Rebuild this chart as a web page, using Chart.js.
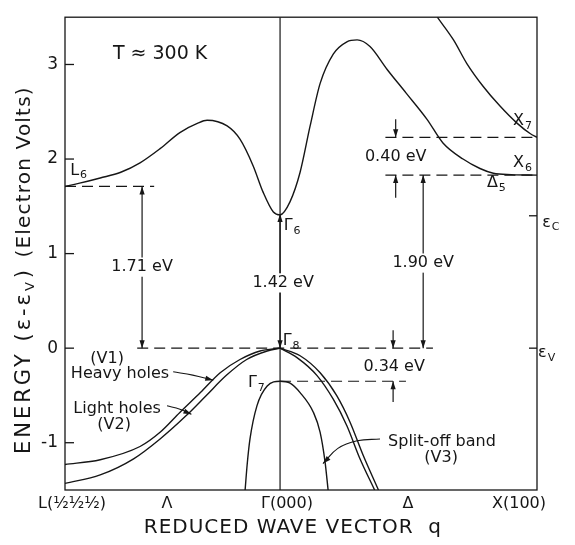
<!DOCTYPE html>
<html>
<head>
<meta charset="utf-8">
<style>html,body{margin:0;padding:0;background:#fff}</style>
<script src="https://cdn.jsdelivr.net/npm/chart.js@4/dist/chart.umd.min.js"></script>
</head>
<body>
<canvas id="bands" width="575" height="545"></canvas>
<script>
// wave vector axis: L at -0.837, Gamma at 0, X at 1
var kMin = -0.837, kMax = 1;
var eMin = -1.5, eMax = 3.5;
var kTickPos = [-0.81, -0.44, 0.027, 0.498, 0.93];
var kTickLabels = ['L(½½½)', 'Λ', 'Γ(000)', 'Δ', 'X(100)'];
var eTicks = [-1, 0, 1, 2, 3];
var eTickLabels = ['-1', '0', '1', '2', '3'];
var rightTicks = [1.40, 0];

// lowest conduction band (L6 - Gamma6 - Delta5/X6)
var condK = [-0.837,-0.78,-0.70,-0.62,-0.545,-0.467,-0.39,-0.32,-0.284,-0.206,-0.156,-0.105,-0.066,-0.026,0,0.039,0.078,0.117,0.156,0.207,0.26,0.30,0.35,0.416,0.49,0.572,0.634,0.712,0.778,0.83,0.9,1];
var condE = [1.71,1.745,1.80,1.86,1.96,2.11,2.28,2.38,2.41,2.35,2.21,1.93,1.65,1.44,1.41,1.55,1.86,2.35,2.80,3.11,3.24,3.26,3.19,2.95,2.70,2.42,2.17,2.00,1.90,1.85,1.835,1.83];
// upper conduction band towards X7
var upperK = [0.612,0.675,0.727,0.79,0.856,0.922,0.973,1];
var upperE = [3.5,3.26,3.01,2.77,2.56,2.38,2.27,2.23];
// valence bands, L side
var heavyK = [-0.837,-0.70,-0.545,-0.467,-0.39,-0.31,-0.233,-0.156,-0.078,0];
var heavyE = [-1.23,-1.18,-1.04,-0.89,-0.68,-0.47,-0.26,-0.12,-0.03,0];
var lightK = [-0.837,-0.70,-0.57,-0.467,-0.364,-0.287,-0.21,-0.13,-0.05,0];
var lightE = [-1.43,-1.34,-1.17,-0.96,-0.71,-0.50,-0.29,-0.12,-0.03,0];
// valence bands, X side
var heavyRK = [0,0.078,0.156,0.22,0.272,0.323,0.383];
var heavyRE = [0,-0.08,-0.26,-0.50,-0.78,-1.13,-1.5];
var lightRK = [0,0.066,0.144,0.207,0.26,0.311,0.368];
var lightRE = [0,-0.10,-0.29,-0.54,-0.82,-1.17,-1.5];
// split-off band
var splitK = [-0.136,-0.128,-0.117,-0.09,-0.05,0,0.039,0.078,0.13,0.156,0.175,0.187];
var splitE = [-1.5,-1.23,-0.96,-0.61,-0.40,-0.35,-0.37,-0.47,-0.68,-0.89,-1.20,-1.5];

// dashed reference levels: [k start, k end, energy]
var levelFrom = [-0.837, -0.556, 0, 0.41, 0.41];
var levelTo   = [-0.49, 0.595, 0.49, 1, 1];
var levelE    = [1.71, 0, -0.35, 1.83, 2.23];

// vertical gap arrows: at k, from energy -> to energy (head at "to")
var arrowK    = [-0.537,-0.537, 0, 0, 0.557, 0.557, 0.45, 0.45, 0.44, 0.44];
var arrowFrom = [0.857, 0.857, 0.69, 0.69, 0.90, 0.90, 2.42, 1.59, 0.19, -0.57];
var arrowTo   = [1.71, 0, 1.42, 0, 1.83, 0, 2.23, 1.83, 0, -0.35];

// leader lines from band names
var heavyLeadK = [-0.416, -0.34, -0.26];
var heavyLeadE = [-0.25, -0.285, -0.34];
var lightLeadK = [-0.44, -0.39, -0.345];
var lightLeadE = [-0.61, -0.645, -0.70];
var splitLeadK = [0.389, 0.30, 0.225, 0.167];
var splitLeadE = [-0.96, -0.98, -1.06, -1.22];

var ink = '#161616';
var face = '"DejaVu Sans", "Liberation Sans", sans-serif';

function pts(ks, es) {
  return ks.map(function (k, i) { return {x: k, y: es[i]}; });
}
function curve(ks, es) {
  return {data: pts(ks, es), borderColor: ink, borderWidth: 1.4, pointRadius: 0,
          showLine: true, cubicInterpolationMode: 'monotone'};
}
function straight(ks, es, dash) {
  return {data: pts(ks, es), borderColor: ink, borderWidth: 1.2, pointRadius: 0,
          showLine: true, tension: 0, borderDash: dash || []};
}

var sets = [
  curve(condK, condE), curve(upperK, upperE),
  curve(heavyK, heavyE), curve(lightK, lightE),
  curve(heavyRK, heavyRE), curve(lightRK, lightRE),
  curve(splitK, splitE),
  straight([0, 0], [eMin, eMax])
];
levelE.forEach(function (e, i) {
  sets.push(straight([levelFrom[i], levelTo[i]], [e, e], [11, 6]));
});
arrowK.forEach(function (k, i) {
  var a = straight([k, k], [arrowFrom[i], arrowTo[i]]);
  a.arrow = true;
  sets.push(a);
});
[[heavyLeadK, heavyLeadE], [lightLeadK, lightLeadE], [splitLeadK, splitLeadE]].forEach(function (p) {
  var a = straight(p[0], p[1]);
  a.tension = 0.4;
  a.borderWidth = 1.1;
  a.arrow = true;
  sets.push(a);
});

// text notes placed in data units
var notes = [
  {t: 'T ≈ 300 K', x: -0.467, y: 3.11, size: 19},
  {t: 'L', sub: '6', x: -0.817, y: 1.88, align: 'left'},
  {t: 'Γ', sub: '6', x: 0.014, y: 1.29, align: 'left'},
  {t: 'X', sub: '7', x: 0.907, y: 2.40, align: 'left'},
  {t: 'X', sub: '6', x: 0.907, y: 1.96, align: 'left'},
  {t: 'Δ', sub: '5', x: 0.805, y: 1.75, align: 'left'},
  {t: 'Γ', sub: '8', x: 0.01, y: 0.08, align: 'left'},
  {t: 'Γ', sub: '7', x: -0.125, y: -0.37, align: 'left'},
  {t: '(V1)', x: -0.673, y: -0.115},
  {t: 'Heavy holes', x: -0.623, y: -0.27},
  {t: 'Light holes', x: -0.634, y: -0.64},
  {t: '(V2)', x: -0.646, y: -0.81},
  {t: '1.71 eV', x: -0.537, y: 0.857, bg: true},
  {t: '1.42 eV', x: 0.012, y: 0.69, bg: true},
  {t: '1.90 eV', x: 0.557, y: 0.90, bg: true},
  {t: '0.40 eV', x: 0.45, y: 2.02},
  {t: '0.34 eV', x: 0.444, y: -0.20},
  {t: 'Split-off band', x: 0.63, y: -0.99},
  {t: '(V3)', x: 0.627, y: -1.16},
  {t: 'ε', sub: 'C', x: 1.02, y: 1.33, align: 'left'},
  {t: 'ε', sub: 'V', x: 1.004, y: -0.05, align: 'left'}
];

function note(ctx, n, px, py) {
  var size = n.size || 16;
  ctx.font = size + 'px ' + face;
  var w1 = ctx.measureText(n.t).width, w2 = 0;
  var subSize = Math.round(size * 0.7);
  if (n.sub) {
    ctx.font = subSize + 'px ' + face;
    w2 = ctx.measureText(n.sub).width + 1;
  }
  var w = w1 + w2;
  var x0 = n.align === 'left' ? px : px - w / 2;
  if (n.bg) {
    ctx.fillStyle = '#fff';
    ctx.fillRect(x0 - 3, py - size * 0.6, w + 6, size * 1.2);
  }
  ctx.fillStyle = ink;
  ctx.textAlign = 'left';
  ctx.textBaseline = 'middle';
  ctx.font = size + 'px ' + face;
  ctx.fillText(n.t, x0, py);
  if (n.sub) {
    ctx.font = subSize + 'px ' + face;
    ctx.fillText(n.sub, x0 + w1 + 1, py + size * 0.32);
  }
}

function head(ctx, x1, y1, x2, y2) {
  var ang = Math.atan2(y2 - y1, x2 - x1), len = 8, hw = 2.6;
  ctx.beginPath();
  ctx.moveTo(x2, y2);
  ctx.lineTo(x2 - len * Math.cos(ang) + hw * Math.sin(ang), y2 - len * Math.sin(ang) - hw * Math.cos(ang));
  ctx.lineTo(x2 - len * Math.cos(ang) - hw * Math.sin(ang), y2 - len * Math.sin(ang) + hw * Math.cos(ang));
  ctx.closePath();
  ctx.fill();
}

var bandNotes = {
  id: 'bandNotes',
  afterDatasetsDraw: function (chart) {
    var ctx = chart.ctx, xs = chart.scales.x, ys = chart.scales.y, a = chart.chartArea;
    ctx.save();
    ctx.strokeStyle = ink;
    ctx.fillStyle = ink;
    ctx.lineWidth = 1.3;
    ctx.strokeRect(a.left, a.top, a.right - a.left, a.bottom - a.top);
    // inward ticks
    eTicks.forEach(function (v) {
      var y = ys.getPixelForValue(v);
      ctx.beginPath(); ctx.moveTo(a.left, y); ctx.lineTo(a.left + 9, y); ctx.stroke();
    });
    rightTicks.forEach(function (v) {
      var y = ys.getPixelForValue(v);
      ctx.beginPath(); ctx.moveTo(a.right - 8, y); ctx.lineTo(a.right, y); ctx.stroke();
    });
    // arrow heads
    chart.data.datasets.forEach(function (ds, i) {
      if (!ds.arrow) return;
      var p = chart.getDatasetMeta(i).data, n = p.length;
      var tip = p[n - 1], bx = p[n - 2].x, by = p[n - 2].y;
      if (tip.cp1x !== undefined && (tip.cp1x !== tip.x || tip.cp1y !== tip.y)) { bx = tip.cp1x; by = tip.cp1y; }
      head(ctx, bx, by, tip.x, tip.y);
    });
    notes.forEach(function (n) {
      note(ctx, n, xs.getPixelForValue(n.x), ys.getPixelForValue(n.y));
    });
    // axis titles
    ctx.fillStyle = ink;
    ctx.textBaseline = 'middle';
    ctx.font = '20px ' + face;
    ctx.letterSpacing = '1px';
    ctx.textAlign = 'center';
    ctx.fillText('REDUCED WAVE VECTOR  q', xs.getPixelForValue(0.05), a.bottom + 38);
    ctx.save();
    ctx.translate(25, ys.getPixelForValue(-1.12));
    ctx.rotate(-Math.PI / 2);
    ctx.textAlign = 'left';
    ctx.letterSpacing = '3px';
    ctx.font = '21px ' + face;
    var part = 'ENERGY (ε-ε';
    ctx.fillText(part, 0, 0);
    var pw = ctx.measureText(part).width;
    ctx.font = '13px ' + face;
    ctx.fillText('V', pw, 6);
    var sw = ctx.measureText('V').width;
    ctx.font = '21px ' + face;
    ctx.fillText(')', pw + sw + 1, 0);
    ctx.restore();
    ctx.save();
    ctx.translate(25, ys.getPixelForValue(2.77));
    ctx.rotate(-Math.PI / 2);
    ctx.textAlign = 'right';
    ctx.letterSpacing = '1.2px';
    ctx.font = '20px ' + face;
    ctx.fillText('(Electron Volts)', 0, 0);
    ctx.restore();
    ctx.letterSpacing = '0px';
    ctx.restore();
  }
};

new Chart(document.getElementById('bands').getContext('2d'), {
  type: 'scatter',
  data: {datasets: sets},
  options: {
    responsive: false,
    animation: false,
    layout: {padding: {top: 10, right: 38, left: 0, bottom: 0}},
    plugins: {legend: {display: false}, tooltip: {enabled: false}},
    scales: {
      x: {
        type: 'linear', min: kMin, max: kMax,
        afterFit: function (s) { s.height = 55; },
        afterBuildTicks: function (s) { s.ticks = kTickPos.map(function (v) { return {value: v}; }); },
        grid: {display: false, drawTicks: false},
        border: {display: false},
        ticks: {
          color: ink, padding: 4, maxRotation: 0, autoSkip: false,
          font: {family: face, size: 16},
          callback: function (v, i) { return kTickLabels[i]; }
        }
      },
      y: {
        min: eMin, max: eMax,
        afterFit: function (s) { s.width = 65; },
        afterBuildTicks: function (s) { s.ticks = eTicks.map(function (v) { return {value: v}; }); },
        grid: {display: false, drawTicks: false},
        border: {display: false},
        ticks: {
          color: ink, padding: 7,
          font: {family: face, size: 17},
          callback: function (v, i) { return eTickLabels[i]; }
        }
      }
    }
  },
  plugins: [bandNotes]
});
</script>
</body>
</html>
